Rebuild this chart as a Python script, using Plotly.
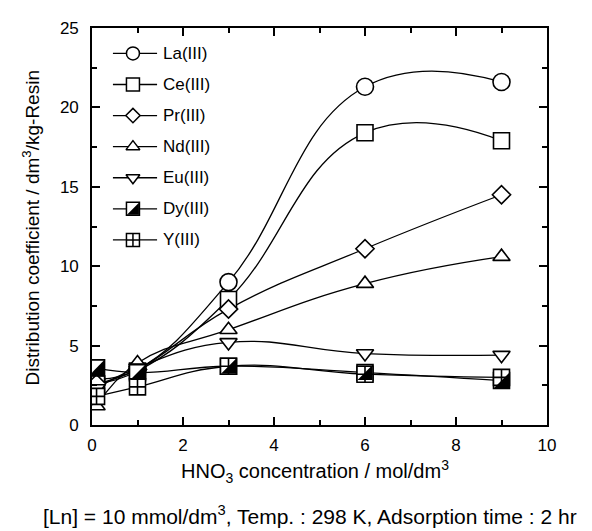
import plotly.graph_objects as go

# ---- data ----
hno3 = [0.1, 1, 3, 6, 9]
series_names = ["La(III)", "Ce(III)", "Pr(III)", "Nd(III)", "Eu(III)", "Dy(III)", "Y(III)"]
la = [2.9, 3.5, 9.0, 21.3, 21.6]
ce = [2.6, 3.4, 7.9, 18.4, 17.9]
pr = [2.6, 3.5, 7.3, 11.1, 14.5]
nd = [1.2, 3.9, 6.0, 8.9, 10.6]
eu = [2.3, 3.6, 5.2, 4.5, 4.4]
dy = [3.6, 3.3, 3.7, 3.3, 2.8]
yy = [1.8, 2.4, 3.7, 3.2, 3.0]
all_vals = [la, ce, pr, nd, eu, dy, yy]
symbols = ["circle", "square", "diamond", "triangle-up", "triangle-down", "square", "square-cross"]
x_ticks = [0, 2, 4, 6, 8, 10]
y_ticks = [0, 5, 10, 15, 20, 25]

FONT = "Liberation Sans, Arial, sans-serif"
sizes = {"circle": 17, "square": 16, "diamond": 14, "triangle-up": 15, "triangle-down": 15,
         "square-cross": 16}
leg_sizes = {"circle": 13, "square": 13, "diamond": 11, "triangle-up": 12, "triangle-down": 12,
             "square-cross": 13}

fig = go.Figure()

# lines first
for name, vals in zip(series_names, all_vals):
    fig.add_trace(go.Scatter(x=hno3, y=vals, mode="lines", showlegend=False,
                             line=dict(shape="spline", smoothing=1.3, color="black", width=1.3),
                             hoverinfo="skip"))
# markers on top
for name, vals, sym in zip(series_names, all_vals, symbols):
    fig.add_trace(go.Scatter(x=hno3, y=vals, mode="markers", name=name, showlegend=False,
                             marker=dict(symbol=sym, size=sizes[sym], color="white",
                                         line=dict(color="black", width=1.6))))

shapes = []
R = 7.5
tri_path = f"M {-R},{-R} L {R},{-R} L {R},{R} Z"
for xi, yi in zip(hno3, dy):
    shapes.append(dict(type="path", xref="x", yref="y", xsizemode="pixel", ysizemode="pixel",
                       xanchor=xi, yanchor=yi, path=tri_path, fillcolor="black",
                       line=dict(width=0), layer="above"))

# manual legend on an overlay axis (0..1 fractions of plot area)
leg_x0, leg_x1, leg_xm, leg_tx = 0.046, 0.143, 0.090, 0.152
leg_top, leg_step = 0.936, 0.0783
annotations = []
for i, (name, sym) in enumerate(zip(series_names, symbols)):
    ly = leg_top - i * leg_step
    fig.add_trace(go.Scatter(x=[leg_x0, leg_x1], y=[ly, ly], mode="lines", xaxis="x2", yaxis="y2",
                             showlegend=False, line=dict(color="black", width=1.3), hoverinfo="skip"))
    fig.add_trace(go.Scatter(x=[leg_xm], y=[ly], mode="markers", xaxis="x2", yaxis="y2",
                             showlegend=False, hoverinfo="skip",
                             marker=dict(symbol=sym, size=leg_sizes[sym], color="white",
                                         line=dict(color="black", width=1.5))))
    annotations.append(dict(x=leg_tx, y=ly, xref="x2", yref="y2", text=name, showarrow=False,
                            xanchor="left", yanchor="middle", font=dict(size=17, family=FONT, color="black")))
    if name == "Dy(III)":
        r2 = 6
        shapes.append(dict(type="path", xref="x2", yref="y2", xsizemode="pixel", ysizemode="pixel",
                           xanchor=leg_xm, yanchor=ly,
                           path=f"M {-r2},{-r2} L {r2},{-r2} L {r2},{r2} Z",
                           fillcolor="black", line=dict(width=0), layer="above"))

annotations += [
    dict(x=0.490, y=-0.118, xref="paper", yref="paper", showarrow=False, xanchor="center", yanchor="middle",
         text="HNO<sub>3</sub> concentration / mol/dm<sup>3</sup>", font=dict(size=20, family=FONT, color="black")),
    dict(x=-0.132, y=0.4975, xref="paper", yref="paper", showarrow=False, xanchor="center", yanchor="middle",
         textangle=-90, text="Distribution coefficient / dm<sup>3</sup>/kg-Resin",
         font=dict(size=19, family=FONT, color="black")),
    dict(x=-0.112, y=-0.2266, xref="paper", yref="paper", showarrow=False, xanchor="left", yanchor="middle",
         text="[Ln] = 10 mmol/dm<sup>3</sup>, Temp. : 298 K, Adsorption time : 2 hr",
         font=dict(size=21, family=FONT, color="black")),
]

axis_common = dict(showgrid=False, zeroline=False, showline=True, linecolor="black", linewidth=1.6,
                   ticks="inside", ticklen=8, tickwidth=1.5, tickcolor="black", mirror="allticks",
                   tickfont=dict(size=17, family=FONT, color="black"))

fig.update_layout(
    width=584, height=523,
    margin=dict(l=84, r=45, t=11, b=106),
    paper_bgcolor="white", plot_bgcolor="white",
    showlegend=False,
    xaxis=dict(range=[0, 10], tickvals=x_ticks, ticktext=[str(v) for v in x_ticks],
               minor=dict(dtick=1, ticklen=5, ticks="inside", tickwidth=1.5, tickcolor="black"),
               ticklabelstandoff=4, **axis_common),
    yaxis=dict(range=[0, 25], tickvals=y_ticks, ticktext=[str(v) for v in y_ticks],
               minor=dict(dtick=2.5, ticklen=5, ticks="inside", tickwidth=1.5, tickcolor="black"),
               ticklabelstandoff=8, **axis_common),
    xaxis2=dict(range=[0, 1], overlaying="x", anchor="y2", visible=False),
    yaxis2=dict(range=[0, 1], overlaying="y", anchor="x2", visible=False),
    shapes=shapes,
    annotations=annotations,
)

fig.write_html("out.html")
